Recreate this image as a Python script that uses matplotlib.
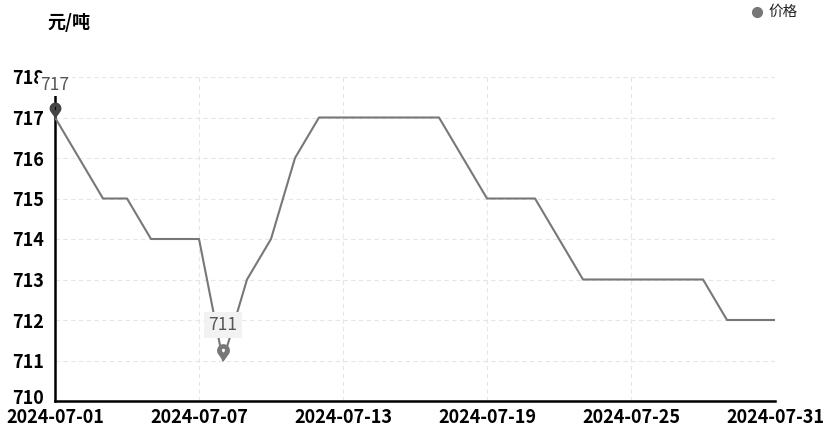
import matplotlib
matplotlib.use('Agg')
import matplotlib.pyplot as plt
import matplotlib.dates as mdates
import matplotlib.transforms as mtransforms
from matplotlib.path import Path
import numpy as np
import pandas as pd

plt.rcParams['font.family'] = ['Noto Sans CJK SC', 'DejaVu Sans']

# Data
dates = pd.date_range('2024-07-01', '2024-07-31', freq='D')
prices = [717, 716, 715, 715, 714, 714, 714, 711, 713, 714,
          716, 717, 717, 717, 717, 717, 717, 716, 715, 715,
          715, 714, 713, 713, 713, 713, 713, 713, 712, 712, 712]
tick_dates = pd.date_range('2024-07-01', '2024-07-31', freq='6D')
y_ticks = list(range(710, 719))
unit_label = '元/吨'
series_name = '价格'

line_color = '#777777'


def pin_marker():
    # teardrop pin with its tip at (0, 0) and a small hole in the head
    cx, cy, r = 0.0, 1.7, 1.0
    t = np.arcsin(r / cy)
    ang = np.linspace(-t, np.pi + t, 48)
    outer = [(0.0, 0.0)] + [(cx + r * np.cos(a), cy + r * np.sin(a)) for a in ang] + [(0.0, 0.0)]
    hole_ang = np.linspace(2 * np.pi, 0, 20)
    hole = [(cx + 0.28 * np.cos(a), cy + 0.28 * np.sin(a)) for a in hole_ang]
    verts = outer + hole + [hole[0]]
    codes = ([Path.MOVETO] + [Path.LINETO] * (len(outer) - 2) + [Path.CLOSEPOLY]
             + [Path.MOVETO] + [Path.LINETO] * (len(hole) - 1) + [Path.CLOSEPOLY])
    return Path(verts, codes)


fig = plt.figure(figsize=(8.26, 4.29), dpi=100)
ax = fig.add_axes([55 / 826, 1 - 401 / 429, 720 / 826, 324 / 429])

ax.plot(dates, prices, color=line_color, linewidth=1.5, zorder=3)

ax.set_xlim(dates[0], dates[-1])
ax.set_ylim(710, 718)
ax.set_yticks(y_ticks)
ax.set_xticks(tick_dates)
ax.xaxis.set_major_formatter(mdates.DateFormatter('%Y-%m-%d'))

ax.grid(True, color='#e6e6e6', linestyle=(0, (4, 3)), linewidth=0.8)
ax.set_axisbelow(True)

for s in ['top', 'right']:
    ax.spines[s].set_visible(False)
for s in ['left', 'bottom']:
    ax.spines[s].set_color('black')
    ax.spines[s].set_linewidth(1.8)

ax.tick_params(axis='both', length=0, labelsize=13, labelcolor='black')
ax.tick_params(axis='x', pad=5)
ax.tick_params(axis='y', pad=8)
for lbl in ax.get_xticklabels() + ax.get_yticklabels():
    lbl.set_fontweight('bold')

# bottom y label sits a little above its grid line
first_y = ax.get_yticklabels()[0]
first_y.set_transform(first_y.get_transform() +
                      mtransforms.ScaledTranslation(0, 4 / 100, fig.dpi_scale_trans))

# max / min pins
pin = pin_marker()
imax = int(np.argmax(prices))
imin = int(np.argmin(prices))
ax.plot(dates[imax], prices[imax], marker=pin, markersize=23, color='#444444',
        markeredgewidth=0, linestyle='none', clip_on=False, zorder=5)
ax.plot(dates[imin], prices[imin], marker=pin, markersize=25, color=line_color,
        markeredgewidth=0, linestyle='none', clip_on=False, zorder=5)
ax.annotate(str(prices[imax]), (dates[imax], prices[imax]), xytext=(0, 17),
            textcoords='offset points', ha='center', va='bottom', fontsize=12.5,
            color='#555555', zorder=6, annotation_clip=False,
            bbox=dict(boxstyle='square,pad=0.15', fc='white', ec='none'))
ax.annotate(str(prices[imin]), (dates[imin], prices[imin]), xytext=(0, 19),
            textcoords='offset points', ha='center', va='bottom', fontsize=12.5,
            color='#555555', zorder=6, annotation_clip=False,
            bbox=dict(boxstyle='square,pad=0.25', fc='#f2f2f2', ec='none'))

# unit label and legend
fig.text(47 / 826, 1 - 22 / 429, unit_label, fontsize=13, fontweight='bold',
         ha='left', va='center')
fig.text(768 / 826, 1 - 12 / 429, series_name, fontsize=10.5, ha='left', va='center',
         color='#222222')
fig.lines.append(plt.Line2D([757 / 826], [1 - 12 / 429], marker='o', markersize=7,
                            color=line_color, transform=fig.transFigure))

fig.savefig('out.png', dpi=100)
